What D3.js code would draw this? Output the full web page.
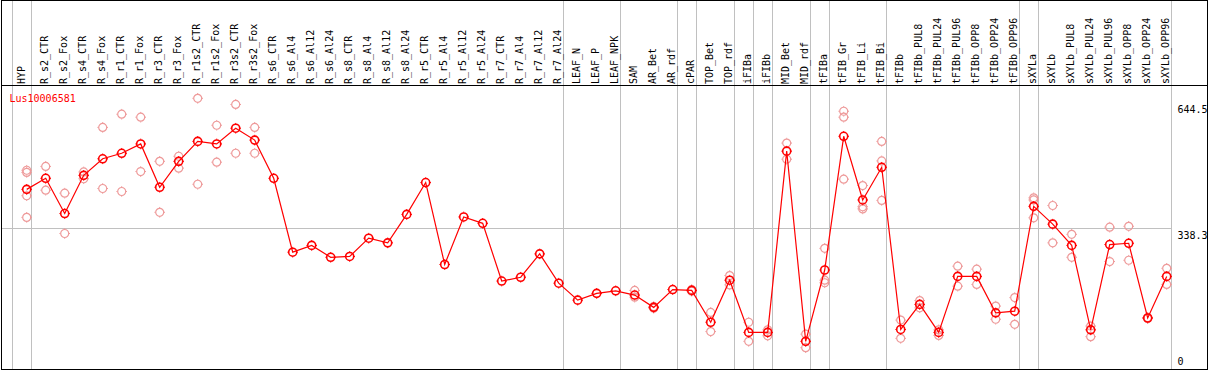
<!DOCTYPE html>
<html><head><meta charset="utf-8">
<script src="https://cdn.jsdelivr.net/npm/d3@7"></script>
<style>html,body{margin:0;padding:0;background:#fff;}svg{display:block;}</style>
</head><body>
<script>
const categories = ["HYP","R_s2_CTR","R_s2_Fox","R_s4_CTR","R_s4_Fox","R_r1_CTR","R_r1_Fox","R_r3_CTR","R_r3_Fox","R_r1s2_CTR","R_r1s2_Fox","R_r3s2_CTR","R_r3s2_Fox","R_s6_CTR","R_s6_Al4","R_s6_Al12","R_s6_Al24","R_s8_CTR","R_s8_Al4","R_s8_Al12","R_s8_Al24","R_r5_CTR","R_r5_Al4","R_r5_Al12","R_r5_Al24","R_r7_CTR","R_r7_Al4","R_r7_Al12","R_r7_Al24","LEAF_N","LEAF_P","LEAF_NPK","SAM","AR_Bet","AR_rdf","cPAR","TOP_Bet","TOP_rdf","iFIBa","iFIBb","MID_Bet","MID_rdf","tFIBa","tFIB_Gr","tFIB_Li","tFIB_Bi","tFIBb","tFIBb_PUL8","tFIBb_PUL24","tFIBb_PUL96","tFIBb_OPP8","tFIBb_OPP24","tFIBb_OPP96","sXYLa","sXYLb","sXYLb_PUL8","sXYLb_PUL24","sXYLb_PUL96","sXYLb_OPP8","sXYLb_OPP24","sXYLb_OPP96"];
const means = [430,456,373,463,502,515,537,435,496,543,537,574,546,456,282,298,270,272,315,304,371,446,253,365,350,214,223,278,209,169,185,191,181,152,194,192,117,216,93,93,520,72,240,555,405,482,100,159,93,225,225,139,143,390,348,298,99,300,303,127,225];
const replicates = [[475,470,415,364],[484,428],[421,326],[471,455],[576,432],[607,425],[600,472],[496,376],[508,480],[644.5,442],[581,494],[630,515],[576,515],[],[],[],[],[],[],[],[],[],[],[],[],[],[],[],[],[],[],[],[192,176],[154,150],[],[194,190],[140,95],[227,205],[117,72],[99,85],[539,501],[89,57],[291,216,210],[614,600,454],[439,389,384],[543,497,404],[122,79],[168,151],[99,86],[249,202],[242,206],[155,124],[175,112],[410,405,363],[392,304],[324,270],[108,83],[341,260],[343,263],[128,126],[244,206]];
const groupEnds = ["HYP","R_r7_Al24","LEAF_NPK","AR_rdf","cPAR","TOP_rdf","iFIBa","iFIBb","MID_rdf","tFIBa","tFIB_Bi","tFIBb_OPP96","sXYLa","sXYLb_OPP96"];
const yTicks = [0, 338.3, 644.5];
const geneName = "Lus10006581";

const W = 1209, H = 370;
const FONT = "'DejaVu Sans Mono', 'Liberation Mono', monospace";
const svg = d3.select("body").append("svg").attr("width", W).attr("height", H);
svg.append("rect").attr("width", W).attr("height", H).attr("fill", "#fff");

const x = d3.scalePoint().domain(categories).range([26.7, 1166.7]);
const y = d3.scaleLinear().domain([0, 644.5]).range([371.9, 98.3]);
const crisp = v => Math.round(v) + 0.5;
const GREY = "#c0c0c0";

// separators
const sepX = [x(categories[0]) - 15].concat(groupEnds.map(c => x(c) + 4));
svg.selectAll("line.sep").data(sepX).enter().append("line")
  .attr("x1", d => crisp(d)).attr("x2", d => crisp(d))
  .attr("y1", 0).attr("y2", 369).attr("stroke", GREY).attr("stroke-width", 1);

// horizontal gridline(s) for interior ticks
const plotRight = x(categories[categories.length - 1]) + 4;
svg.selectAll("line.grid").data(yTicks.filter((d, i) => i > 0 && i < yTicks.length - 1)).enter().append("line")
  .attr("x1", 1).attr("x2", crisp(plotRight))
  .attr("y1", d => crisp(y(d))).attr("y2", d => crisp(y(d)))
  .attr("stroke", GREY).attr("stroke-width", 1);

// frame
svg.append("rect").attr("x", 1.5).attr("y", 0.5).attr("width", 1206).attr("height", 369)
  .attr("fill", "none").attr("stroke", "#000").attr("stroke-width", 1);
svg.append("line").attr("x1", 1).attr("x2", 1208).attr("y1", 85.5).attr("y2", 85.5)
  .attr("stroke", "#000").attr("stroke-width", 1);

// column labels
svg.selectAll("text.col").data(categories).enter().append("text")
  .attr("transform", (d, i) => `translate(${x(d) + (i === 0 ? -2 : 2)},84) rotate(-90)`)
  .attr("text-anchor", "start").attr("font-family", FONT).attr("font-size", 10)
  .attr("fill", "#000").text(d => d);

// y labels
svg.selectAll("text.ytick").data(yTicks).enter().append("text")
  .attr("x", 1177.5)
  .attr("y", d => Math.max(112.5, Math.min(364.5, y(d) + 10.7)))
  .attr("font-family", FONT).attr("font-size", 10).attr("fill", "#000")
  .text(d => String(d));

// gene name
svg.append("text").attr("x", 9.5).attr("y", 101.5).attr("font-family", FONT)
  .attr("font-size", 10).attr("fill", "#ff0000").text(geneName);

function marker(g, cx, cy, color, sw) {
  const m = g.append("g").attr("transform", `translate(${cx},${cy})`);
  m.append("circle").attr("r", 4).attr("fill", "none").attr("stroke", color).attr("stroke-width", sw);
  [[0,-1],[0,1],[-1,0],[1,0]].forEach(([dx, dy]) => {
    m.append("line").attr("x1", dx * 4.3).attr("y1", dy * 4.3).attr("x2", dx * 5.3).attr("y2", dy * 5.3)
      .attr("stroke", color).attr("stroke-width", 1);
  });
}

// replicates
const repG = svg.append("g");
categories.forEach((c, i) => {
  replicates[i].forEach(v => marker(repG, x(c), y(v), "#ee9a9a", 1.2));
});

// mean line
const line = d3.line().x((d, i) => x(categories[i])).y(d => y(d));
svg.append("path").datum(means).attr("d", line).attr("fill", "none")
  .attr("stroke", "#ff0000").attr("stroke-width", 1.2);

const meanG = svg.append("g");
means.forEach((v, i) => marker(meanG, x(categories[i]), y(v), "#ff0000", 1.6));
</script>
</body></html>
